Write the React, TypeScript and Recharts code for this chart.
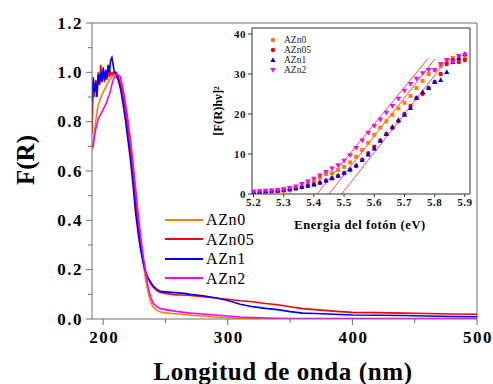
import { LineChart, Line, XAxis, YAxis, ReferenceLine, Legend, ComposedChart, Scatter } from 'recharts'

const SERIF = '"Liberation Serif", "Times New Roman", Times, serif'
const AXIS = '#6e6e6e'
const INSET_AXIS = '#333333'

// main spectra: F(R) vs wavelength (nm)
const WAVELENGTH = [
    191, 192, 193, 194, 195, 196, 197, 198, 199, 200, 201, 202, 203, 204, 205, 206, 207, 208, 209, 210, 211, 212,
    214, 216, 218, 220, 222, 224, 226, 228, 230, 232, 234, 236, 238, 240,
    243, 246, 250, 255, 260, 265, 270,
    280, 290, 300, 310, 320, 330, 340, 350, 360, 370, 380, 390, 400,
    420, 440, 460, 480, 500,
]
const AZN0 = [
    0.69, 0.72, 0.76, 0.80, 0.84, 0.87, 0.88, 0.90, 0.91, 0.92, 0.93, 0.94, 0.95, 0.96, 0.97, 0.975, 0.98, 0.99, 0.995, 1.0, 1.0, 0.99,
    0.96, 0.92, 0.86, 0.79, 0.71, 0.61, 0.50, 0.40, 0.31, 0.23, 0.16, 0.11, 0.07, 0.05,
    0.035, 0.028, 0.025, 0.022, 0.02, 0.018, 0.015,
    0.012, 0.008, 0.005, 0.003, 0.002, 0.001, 0.001, 0.001, 0, 0, 0, 0, 0,
    0, 0, 0, 0, 0,
]
const AZN05 = [
    0.75, 0.95, 0.90, 0.97, 0.93, 1.00, 0.95, 1.03, 0.97, 1.00, 0.96, 0.99, 0.97, 1.01, 0.98, 1.00, 0.99, 1.00, 1.00, 1.00, 0.99, 0.98,
    0.95, 0.90, 0.84, 0.76, 0.68, 0.58, 0.47, 0.38, 0.30, 0.24, 0.195, 0.165, 0.145, 0.13,
    0.115, 0.108, 0.104, 0.10, 0.098, 0.097, 0.095,
    0.09, 0.085, 0.08, 0.074, 0.07, 0.063, 0.058, 0.05, 0.042, 0.038, 0.034, 0.03, 0.027,
    0.026, 0.024, 0.022, 0.02, 0.019,
]
const AZN1 = [
    0.88, 0.98, 0.92, 0.96, 0.90, 0.99, 0.95, 1.00, 0.96, 1.02, 0.97, 1.01, 0.98, 1.03, 1.00, 1.05, 1.06, 1.03, 1.00, 0.99, 0.98, 0.97,
    0.93, 0.87, 0.80, 0.72, 0.64, 0.54, 0.43, 0.35, 0.28, 0.23, 0.19, 0.165, 0.15, 0.135,
    0.12, 0.112, 0.11, 0.108, 0.106, 0.104, 0.10,
    0.094, 0.086, 0.075, 0.06, 0.05, 0.043, 0.038, 0.03, 0.024, 0.022, 0.02, 0.018, 0.016,
    0.015, 0.014, 0.012, 0.01, 0.009,
]
const AZN2 = [
    0.71, 0.70, 0.74, 0.77, 0.79, 0.81, 0.82, 0.83, 0.84, 0.85, 0.86, 0.87, 0.88, 0.90, 0.91, 0.93, 0.95, 0.97, 0.98, 0.99, 0.99, 0.99,
    0.98, 0.93, 0.87, 0.80, 0.72, 0.63, 0.53, 0.43, 0.34, 0.26, 0.19, 0.13, 0.09, 0.065,
    0.05, 0.042, 0.038, 0.034, 0.03, 0.027, 0.024,
    0.02, 0.016, 0.012, 0.008, 0.006, 0.004, 0.003, 0.002, 0.002, 0.002, 0.002, 0.002, 0.002,
    0.002, 0.002, 0.002, 0.002, 0.002,
]

const SERIES_KEYS = ['azn0', 'azn05', 'azn1', 'azn2']
const SERIES_NAMES = ['AZn0', 'AZn05', 'AZn1', 'AZn2']
const SERIES_COLORS = ['#ff8000', '#ff0000', '#0000ff', '#ff00ff']

const X_TICKS = [200, 250, 300, 350, 400, 450, 500]
const Y_TICKS = [0, 0.1, 0.2, 0.3, 0.4, 0.5, 0.6, 0.7, 0.8, 0.9, 1.0, 1.1, 1.2]

// inset: [F(R)hv]^2 vs photon energy (eV)
const ENERGY = [
    5.20, 5.22, 5.24, 5.26, 5.28, 5.30, 5.32, 5.34, 5.36, 5.38, 5.40, 5.42, 5.44, 5.46, 5.48, 5.50, 5.52, 5.54,
    5.56, 5.58, 5.60, 5.62, 5.64, 5.66, 5.68, 5.70, 5.72, 5.74, 5.76, 5.78, 5.80, 5.82, 5.84, 5.86, 5.88, 5.90,
]
const TAUC_AZN0 = [
    0.2, 0.2, 0.3, 0.3, 0.4, 0.6, 0.9, 1.3, 1.8, 2.5, 3.2, 4.1, 5.0, 5.2, 6.0, 6.8, 7.9, 9.3,
    11.0, 12.8, 14.8, 16.6, 18.2, 19.8, 21.4, 22.8, 24.5, 26.5, 28.3, 30.0, 31.0, 32.0, 33.3, 34.0, 34.2, 34.0,
]
const TAUC_AZN05 = [
    0.4, 0.5, 0.6, 0.7, 0.8, 1.0, 1.2, 1.4, 1.7, 2.0, 2.4, 2.8, 3.3, 3.9, 4.5, 5.2, 6.0, 7.0,
    8.6, 10.2, 11.8, 13.4, 15.0, 16.5, 18.2, 20.0, 22.0, 24.0, 25.0, 26.5, 28.0, 30.0, 32.5, 33.5, 33.0, 33.5,
]
const TAUC_AZN1 = [
    0.5, 0.6, 0.7, 0.8, 0.9, 1.1, 1.3, 1.5, 1.8, 2.1, 2.4, 2.9, 3.4, 4.0, 4.6, 5.3, 6.2, 7.2,
    8.5, 9.9, 11.4, 13.3, 15.0, 16.8, 18.5, 19.8, 21.5, 24.0, 25.5, 26.5, 28.0, 28.5, 30.5, 33.0, 34.0, 35.0,
]
const TAUC_AZN2 = [
    0.6, 0.7, 0.8, 0.9, 1.0, 1.2, 1.5, 1.9, 2.5, 3.1, 3.8, 4.6, 5.5, 6.4, 7.2, 8.3, 9.7, 11.5,
    13.4, 15.3, 17.0, 18.6, 20.3, 22.0, 23.8, 25.8, 27.5, 28.8, 30.2, 31.0, 31.0, 32.5, 33.5, 33.0, 34.5, 34.8,
]
// linear fits (band gap extrapolation)
const FIT_START = [5.41, 5.45, 5.492]
const FIT_END = [5.778, 5.80, 5.84]
const FIT_END_VALUE = [33.9, 33.7, 33.5]

const INSET_X_TICKS = [5.2, 5.25, 5.3, 5.35, 5.4, 5.45, 5.5, 5.55, 5.6, 5.65, 5.7, 5.75, 5.8, 5.85, 5.9]
const INSET_Y_TICKS = [0, 5, 10, 15, 20, 25, 30, 35, 40]

const mainData = WAVELENGTH.map((w, i) => ({ w, azn0: AZN0[i], azn05: AZN05[i], azn1: AZN1[i], azn2: AZN2[i] }))
const TAUC = [TAUC_AZN0, TAUC_AZN05, TAUC_AZN1, TAUC_AZN2]
const taucData = TAUC.map(arr => ENERGY.map((e, i) => ({ e, v: arr[i] })))
const fitData = FIT_START.map((s, i) => [{ e: s, v: 0 }, { e: FIT_END[i], v: FIT_END_VALUE[i] }])

/* eslint-disable @typescript-eslint/no-explicit-any */
function MainXTick({ x, y, payload }: any) {
    const major = payload.value % 100 === 0
    return (
        <g>
            <line x1={x} x2={x} y1={y} y2={y + (major ? 6 : 4)} stroke={AXIS} />
            {major && (
                <text x={x + 1} y={y + 24} textAnchor="middle" style={{ fontFamily: SERIF, letterSpacing: 1.5 }}
                    fontWeight="bold" fontSize={17} fill="#000">
                    {payload.value}
                </text>
            )}
        </g>
    )
}

function MainYTick({ x, y, payload }: any) {
    const major = Math.round(payload.value * 10) % 2 === 0
    return (
        <g>
            <line x1={x - (major ? 6 : 4)} x2={x} y1={y} y2={y} stroke={AXIS} />
            {major && (
                <text x={x - 9} y={y + 5.5} textAnchor="end" style={{ fontFamily: SERIF, letterSpacing: 1.5 }}
                    fontWeight="bold" fontSize={17} fill="#000">
                    {payload.value.toFixed(1)}
                </text>
            )}
        </g>
    )
}

function InsetXTick({ x, y, payload }: any) {
    const major = Math.round(payload.value * 100) % 10 === 0
    return (
        <g>
            <line x1={x} x2={x} y1={y} y2={y + 3} stroke={INSET_AXIS} />
            {major && (
                <text x={x} y={y + 11.5} textAnchor="middle" style={{ fontFamily: SERIF, letterSpacing: 0.5 }}
                    fontWeight="bold" fontSize={11} fill="#111">
                    {payload.value.toFixed(1)}
                </text>
            )}
        </g>
    )
}

function InsetYTick({ x, y, payload }: any) {
    const major = payload.value % 10 === 0
    return (
        <g>
            <line x1={x - (major ? 4 : 2)} x2={x} y1={y} y2={y} stroke={INSET_AXIS} />
            {major && (
                <text x={x - 6} y={y + 3.5} textAnchor="end" style={{ fontFamily: SERIF, letterSpacing: 0.5 }}
                    fontWeight="bold" fontSize={11} fill="#111">
                    {payload.value}
                </text>
            )}
        </g>
    )
}

function Title({ tx, ty, rot = 0, size, spacing = 0, children }: any) {
    return (
        <text x={tx} y={ty} textAnchor="middle" dominantBaseline="central" style={{ fontFamily: SERIF, letterSpacing: spacing }}
            fontWeight="bold" fontSize={size} fill="#000" transform={rot ? `rotate(${rot} ${tx} ${ty})` : undefined}>
            {children}
        </text>
    )
}

function MainLegend() {
    return (
        <div style={{ fontFamily: SERIF, fontSize: 16, lineHeight: '19.5px' }}>
            {SERIES_NAMES.map((name, i) => (
                <div key={name} style={{ display: 'flex', alignItems: 'center', height: 19.5 }}>
                    <svg width={41} height={6}><line x1={0} x2={38} y1={3} y2={3} stroke={SERIES_COLORS[i]} strokeWidth={2} /></svg>
                    <span style={{ letterSpacing: 0.6 }}>{name}</span>
                </div>
            ))}
        </div>
    )
}

function Marker({ cx, cy, fill, kind }: any) {
    if (kind === 0) return <rect x={cx - 2} y={cy - 2} width={4} height={4} fill={fill} />
    if (kind === 1) return <circle cx={cx} cy={cy} r={2.2} fill={fill} />
    if (kind === 2) return <polygon points={`${cx},${cy - 2.8} ${cx - 2.6},${cy + 2} ${cx + 2.6},${cy + 2}`} fill={fill} />
    return <polygon points={`${cx},${cy + 2.8} ${cx - 2.8},${cy - 2} ${cx + 2.8},${cy - 2}`} fill={fill} />
}

function InsetLegend() {
    return (
        <div style={{ fontFamily: SERIF, fontSize: 9.5, color: '#222' }}>
            {SERIES_NAMES.map((name, i) => (
                <div key={name} style={{ display: 'flex', alignItems: 'center', height: 10 }}>
                    <svg width={15} height={8}><Marker cx={4} cy={4} fill={SERIES_COLORS[i]} kind={i} /></svg>
                    <span>{name}</span>
                </div>
            ))}
        </div>
    )
}

export default function App() {
    return (
        <div style={{ position: 'absolute', left: 0, top: 0, width: 493, height: 384, background: '#fff', fontFamily: SERIF }}>
            <LineChart width={493} height={384} data={mainData} margin={{ top: 23, right: 16, bottom: 0, left: 0 }}>
                <XAxis dataKey="w" type="number" domain={[191, 500]} ticks={X_TICKS} allowDataOverflow
                    height={65} tickSize={0} tickMargin={0} tickLine={false} stroke={AXIS} tick={<MainXTick />}
                    label={<Title tx={283} ty={371} size={25} spacing={0.6}>Longitud de onda (nm)</Title>} />
                <YAxis type="number" domain={[0, 1.2]} ticks={Y_TICKS} allowDataOverflow
                    width={92} tickSize={0} tickMargin={0} tickLine={false} stroke={AXIS} tick={<MainYTick />}
                    label={<Title tx={25} ty={160} rot={-90} size={25}>F(R)</Title>} />
                <ReferenceLine y={1.2} stroke={AXIS} />
                <ReferenceLine x={500} stroke={AXIS} />
                {SERIES_KEYS.map((k, i) => (
                    <Line key={k} dataKey={k} name={SERIES_NAMES[i]} stroke={SERIES_COLORS[i]} strokeWidth={1.6}
                        dot={false} isAnimationActive={false} />
                ))}
                <Legend layout="horizontal" verticalAlign="middle" align="center" content={<MainLegend />}
                    wrapperStyle={{ left: 165, top: 210, width: 120, height: 80 }} />
            </LineChart>

            <div style={{ position: 'absolute', left: 200, top: 23 }}>
                <ComposedChart width={277} height={210} margin={{ top: 5, right: 7, bottom: 0, left: 0 }}>
                    <XAxis dataKey="e" type="number" domain={[5.195, 5.917]} ticks={INSET_X_TICKS} allowDataOverflow
                        height={39} tickSize={0} tickMargin={0} tickLine={false} stroke={INSET_AXIS} tick={<InsetXTick />}
                        label={<Title tx={160} ty={202} size={12.5} spacing={0.6}>Energia del fotón (eV)</Title>} />
                    <YAxis dataKey="v" type="number" domain={[0, 41.5]} ticks={INSET_Y_TICKS} allowDataOverflow
                        width={52} tickSize={0} tickMargin={0} tickLine={false} stroke={INSET_AXIS} tick={<InsetYTick />}
                        label={<Title tx={18} ty={88} rot={-90} size={12.5}>[F(R)hν]²</Title>} />
                    <ReferenceLine y={41.5} stroke={INSET_AXIS} />
                    <ReferenceLine x={5.917} stroke={INSET_AXIS} />
                    {fitData.map((d, i) => (
                        <Line key={`fit${i}`} data={d} dataKey="v" stroke="#ff0000" strokeWidth={0.7}
                            dot={false} isAnimationActive={false} />
                    ))}
                    {taucData.map((d, i) => (
                        <Scatter key={SERIES_KEYS[i]} data={d} name={SERIES_NAMES[i]} fill={SERIES_COLORS[i]}
                            shape={(p: any) => <Marker cx={p.cx} cy={p.cy} fill={SERIES_COLORS[i]} kind={i} />}
                            isAnimationActive={false} />
                    ))}
                    <Legend layout="horizontal" verticalAlign="middle" align="center" content={<InsetLegend />}
                        wrapperStyle={{ left: 69, top: 12, width: 60, height: 42 }} />
                </ComposedChart>
            </div>
        </div>
    )
}
